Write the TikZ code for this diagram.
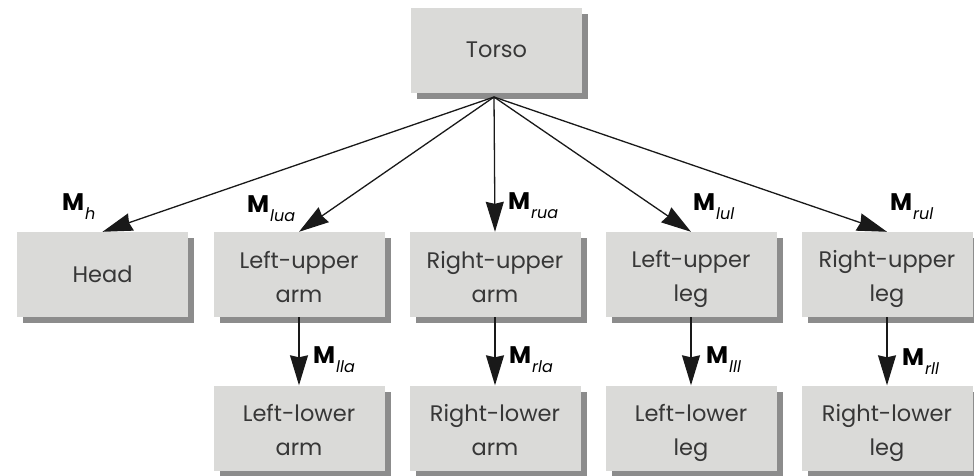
\documentclass[tikz,border=0pt]{standalone}
\usepackage{fontspec}
\setmainfont{Poppins}
\usetikzlibrary{arrows.meta,shadows}
\definecolor{boxfill}{RGB}{218,218,216}
\definecolor{boxshade}{RGB}{140,140,140}
\definecolor{inkgray}{RGB}{55,55,55}
% transform label: bold M with an italic subscript
\newcommand{\Mlab}[1]{{\fontsize{24}{24}\selectfont\bfseries M}\hspace{1pt}\raisebox{-9pt}{\fontsize{16}{16}\selectfont\itshape #1}}
% two-line box caption with even line struts
\newcommand{\linestrut}{\rule[-6pt]{0pt}{33pt}}
\newcommand{\twolines}[2]{\linestrut#1\\\linestrut#2}

\begin{document}
\begin{tikzpicture}[x=1pt,y=-1pt,
  part/.style={draw=none, fill=boxfill, minimum width=171pt, minimum height=85pt,
    inner sep=0pt, align=center, text=inkgray, font=\fontsize{22.5}{34}\selectfont,
    drop shadow={shadow xshift=6pt, shadow yshift=-6pt, fill=boxshade, opacity=1}},
  link/.style={draw=black!90, line width=1.3pt, -{Stealth[length=30pt,width=18pt,inset=2pt]}},
  mlabel/.style={anchor=base west, inner sep=0pt, text=black}]
\useasboundingbox (0,0) rectangle (974,475);

% body parts
\node[part] (torso) at (496.5,50) {Torso};
\node[part] (head) at (102.5,274.5) {Head};
\node[part] (lua) at (299,274.5) {\twolines{Left-upper}{arm}};
\node[part] (rua) at (495,274.5) {\twolines{Right-upper}{arm}};
\node[part] (lul) at (691,274.5) {\twolines{Left-upper}{leg}};
\node[part] (rul) at (887,274.5) {\twolines{Right-upper}{leg}};
\node[part] (lla) at (299,428) {\twolines{Left-lower}{arm}};
\node[part] (rla) at (495,428) {\twolines{Right-lower}{arm}};
\node[part] (lll) at (691,428) {\twolines{Left-lower}{leg}};
\node[part] (rll) at (887,428) {\twolines{Right-lower}{leg}};

% common origin of the torso links
\coordinate (apex) at (494,97);

\draw[link] (apex) -- (head.north);
\draw[link] (apex) -- (lua.north);
\draw[link] (apex) -- (rua.north);
\draw[link] (apex) -- (lul.north);
\draw[link] (apex) -- (rul.north);

\draw[link] (lua.south) -- (lla.north);
\draw[link] (rua.south) -- (rla.north);
\draw[link] (lul.south) -- (lll.north);
\draw[link] (rul.south) -- (rll.north);

% transform labels
\node[mlabel] (mh) at (62,210) {\Mlab{h}};
\node[mlabel] (mlua) at (247,212) {\Mlab{lua}};
\node[mlabel] (mrua) at (508,209) {\Mlab{rua}};
\node[mlabel] (mlul) at (693,210) {\Mlab{lul}};
\node[mlabel] (mrul) at (890,210) {\Mlab{rul}};
\node[mlabel] (mlla) at (313,363) {\Mlab{lla}};
\node[mlabel] (mrla) at (509,363) {\Mlab{rla}};
\node[mlabel] (mlll) at (706,363) {\Mlab{lll}};
\node[mlabel] (mrll) at (902,365) {\Mlab{rll}};
\end{tikzpicture}
\end{document}
